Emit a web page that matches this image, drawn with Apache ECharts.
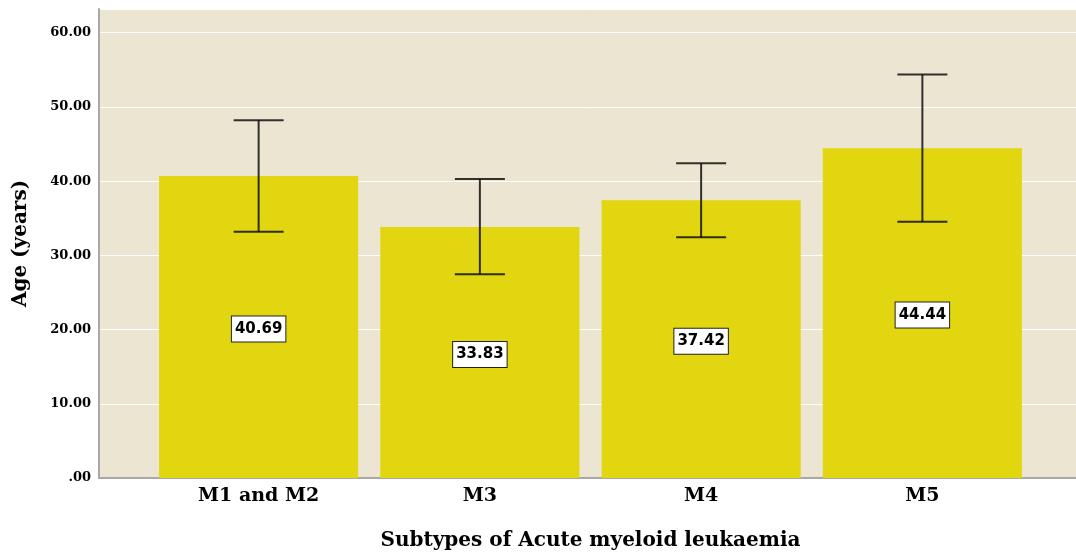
<!DOCTYPE html>
<html>
<head>
<meta charset="utf-8">
<script src="https://cdn.jsdelivr.net/npm/echarts@6/dist/echarts.min.js"></script>
<style>html,body{margin:0;padding:0;background:#fff}#c{width:1076px;height:552px}</style>
</head>
<body>
<div id="c"></div>
<script>
var categories = ['M1 and M2', 'M3', 'M4', 'M5'];
var means = [40.69, 33.83, 37.42, 44.44];
var lowerCI = [33.19, 27.46, 32.44, 34.54];
var upperCI = [48.22, 40.28, 42.40, 54.37];
var yTicks = [0, 10, 20, 30, 40, 50, 60];

var serif = '"DejaVu Serif", "Liberation Serif", serif';
var chart = echarts.init(document.getElementById('c'));
var YMAX = 63.2;
var errData = categories.map(function (c, i) { return [i, lowerCI[i], upperCI[i]]; });

chart.setOption({
  animation: false,
  grid: [
    { left: 99, right: 0, top: 9, bottom: 74, show: true, backgroundColor: '#ebe5d2', borderWidth: 0, outerBoundsMode: 'none', containLabel: false },
    { left: 148, right: 43, top: 9, bottom: 74, outerBoundsMode: 'none', containLabel: false }
  ],
  xAxis: [
    { gridIndex: 0, type: 'value', min: 0, max: 1,
      axisLine: { show: true, onZero: false, lineStyle: { color: '#a8a8a8', width: 2 } },
      axisTick: { show: false }, axisLabel: { show: false }, splitLine: { show: false } },
    { gridIndex: 1, type: 'category', data: categories,
      axisLine: { show: false }, axisTick: { show: false },
      axisLabel: { margin: 9, color: '#000', fontFamily: serif, fontWeight: 'bold', fontSize: 19 },
      name: 'Subtypes of Acute myeloid leukaemia', nameLocation: 'middle', nameGap: 53,
      nameTextStyle: { color: '#000', fontFamily: serif, fontWeight: 'bold', fontSize: 20 } }
  ],
  yAxis: [
    { gridIndex: 0, type: 'value', min: 0, max: YMAX, interval: 10,
      axisLine: { show: true, lineStyle: { color: '#a8a8a8', width: 2 } },
      axisTick: { show: false },
      axisLabel: { showMaxLabel: false, margin: 8, color: '#000', fontFamily: serif, fontWeight: 'bold', fontSize: 13,
        formatter: function (v) { if (yTicks.indexOf(v) < 0) return ''; return v === 0 ? '.00' : v.toFixed(2); } },
      splitLine: { show: true, lineStyle: { color: '#ffffff', width: 1 } },
      name: 'Age (years)', nameLocation: 'middle', nameGap: 68, nameRotate: 90,
      nameTextStyle: { color: '#000', fontFamily: serif, fontWeight: 'bold', fontSize: 20 } },
    { gridIndex: 1, type: 'value', min: 0, max: YMAX, show: false, splitLine: { show: false } }
  ],
  series: [
    { type: 'bar', xAxisIndex: 1, yAxisIndex: 1, data: means, barCategoryGap: '10%',
      itemStyle: { color: '#e1d60f' },
      label: { show: true, position: 'inside', offset: [0, 2], color: '#000', fontFamily: '"DejaVu Sans", sans-serif', fontWeight: 'bold', fontSize: 15,
        backgroundColor: '#fff', borderColor: '#222', borderWidth: 1, padding: [6, 3, 4, 3],
        formatter: function (p) { return p.value.toFixed(2); } } },
    { type: 'custom', xAxisIndex: 1, yAxisIndex: 1, data: errData, z: 10,
      renderItem: function (params, api) {
        var x = api.value(0);
        var lo = api.coord([x, api.value(1)]);
        var hi = api.coord([x, api.value(2)]);
        var hw = 25;
        var st = { stroke: '#111', lineWidth: 2, opacity: 0.85 };
        return { type: 'group', children: [
          { type: 'line', shape: { x1: hi[0], y1: hi[1], x2: lo[0], y2: lo[1] }, style: st },
          { type: 'line', shape: { x1: hi[0] - hw, y1: hi[1], x2: hi[0] + hw, y2: hi[1] }, style: st },
          { type: 'line', shape: { x1: lo[0] - hw, y1: lo[1], x2: lo[0] + hw, y2: lo[1] }, style: st }
        ] };
      } }
  ]
});
</script>
</body>
</html>
